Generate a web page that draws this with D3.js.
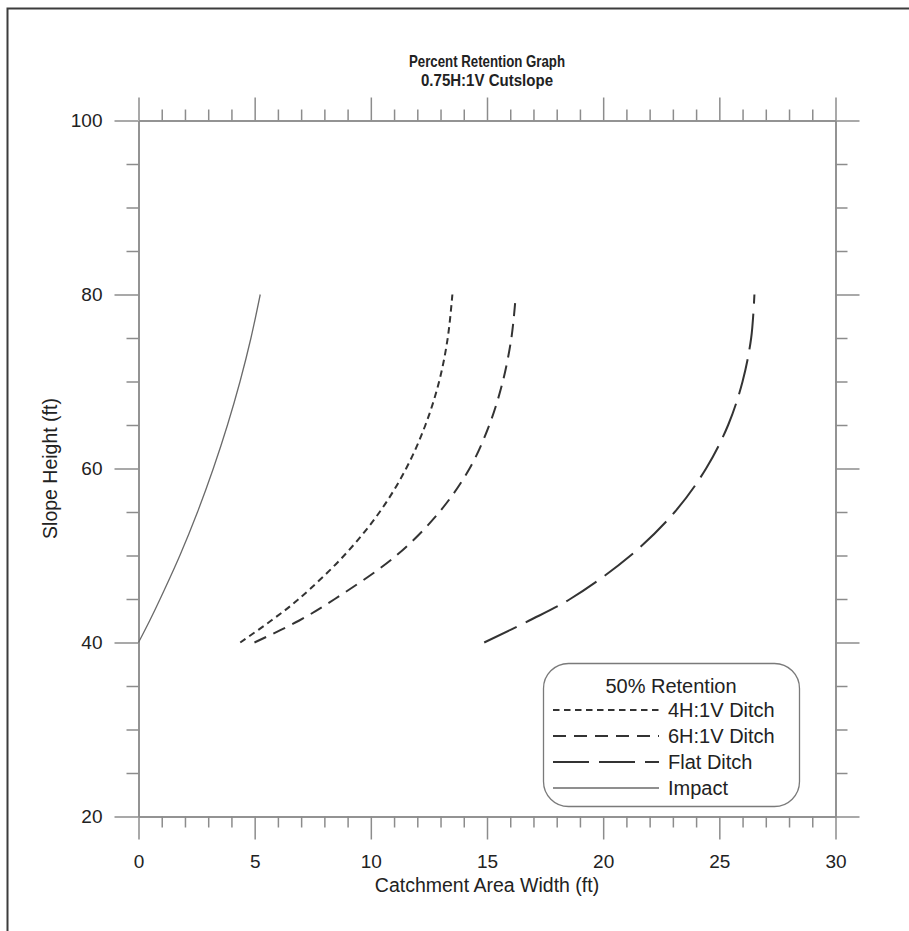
<!DOCTYPE html>
<html><head><meta charset="utf-8">
<script src="https://cdn.jsdelivr.net/npm/d3@7"></script>
<style>
html,body{margin:0;padding:0;background:#fff;overflow:hidden;}
svg{display:block;font-family:"Liberation Sans",Arial,sans-serif;}
</style></head>
<body>
<svg id="chart" width="909" height="931"></svg>
<script>
// ---- data ----
const titleLines = ["Percent Retention Graph", "0.75H:1V Cutslope"];
const xLabel = "Catchment Area Width (ft)";
const yLabel = "Slope Height (ft)";
const legendTitle = "50% Retention";
const seriesNames = ["4H:1V Ditch", "6H:1V Ditch", "Flat Ditch", "Impact"];
const xMajorTicks = [0, 5, 10, 15, 20, 25, 30];
const yMajorTicks = [20, 40, 60, 80, 100];
const heights = [40, 42.5, 45, 50, 55, 60, 65, 70, 75, 80];
const heights6H = [40, 42.5, 45, 50, 55, 60, 65, 70, 75, 79];
const width4H = [4.38, 5.7, 6.9, 8.85, 10.38, 11.52, 12.35, 12.94, 13.31, 13.51];
const width6H = [4.99, 6.9, 8.45, 11.1, 12.95, 14.25, 15.1, 15.68, 16.05, 16.21];
const widthFlat = [14.88, 16.8, 18.58, 21.18, 23.08, 24.43, 25.38, 26.0, 26.37, 26.51];
const widthImpact = [0, 0.48, 0.93, 1.78, 2.54, 3.22, 3.83, 4.37, 4.84, 5.24];

// ---- build ----
const svg = d3.select("#chart");
const axisColor = "#8c8c8c";
const textColor = "#222";
const x = d3.scaleLinear().domain([0, 30]).range([138.5, 835.5]);
const y = d3.scaleLinear().domain([20, 100]).range([816.5, 120.5]);

// outer frame (only top and left edges fall inside the view)
svg.append("path").attr("d", "M7.5,1000 V8.5 H1000")
  .attr("fill", "none").attr("stroke", "#3c3c3c").attr("stroke-width", 2);

const xMinor = d3.range(0, 31, 1).filter(v => v % 5 !== 0);
const yMinor = d3.range(20, 101, 5).filter(v => v % 20 !== 0);

function styleAxis(g) {
  g.selectAll("path.domain").attr("stroke", axisColor).attr("stroke-width", 1.5);
  g.selectAll(".tick line").attr("stroke", axisColor).attr("stroke-width", 1.5);
  g.selectAll(".tick text").attr("fill", textColor).attr("font-size", 19)
    .attr("font-family", "Liberation Sans, Arial, sans-serif");
}

// bottom
const gB = svg.append("g").attr("transform", `translate(0,${y(20)})`)
  .call(d3.axisBottom(x).tickValues(xMajorTicks).tickSize(23).tickSizeOuter(0).tickPadding(15).tickFormat(d3.format("d")));
styleAxis(gB);
const gBm = svg.append("g").attr("transform", `translate(0,${y(20)})`)
  .call(d3.axisBottom(x).tickValues(xMinor).tickSize(11).tickSizeOuter(0).tickFormat(""));
styleAxis(gBm);
// top
const gT = svg.append("g").attr("transform", `translate(0,${y(100)})`)
  .call(d3.axisTop(x).tickValues(xMajorTicks).tickSize(23).tickSizeOuter(0).tickFormat(""));
styleAxis(gT);
const gTm = svg.append("g").attr("transform", `translate(0,${y(100)})`)
  .call(d3.axisTop(x).tickValues(xMinor).tickSize(11).tickSizeOuter(0).tickFormat(""));
styleAxis(gTm);
// left
const gL = svg.append("g").attr("transform", `translate(${x(0)},0)`)
  .call(d3.axisLeft(y).tickValues(yMajorTicks).tickSize(24).tickSizeOuter(0).tickPadding(12).tickFormat(d3.format("d")));
styleAxis(gL);
const gLm = svg.append("g").attr("transform", `translate(${x(0)},0)`)
  .call(d3.axisLeft(y).tickValues(yMinor).tickSize(12).tickSizeOuter(0).tickFormat(""));
styleAxis(gLm);
// right
const gR = svg.append("g").attr("transform", `translate(${x(30)},0)`)
  .call(d3.axisRight(y).tickValues(yMajorTicks).tickSize(24).tickSizeOuter(0).tickFormat(""));
styleAxis(gR);
const gRm = svg.append("g").attr("transform", `translate(${x(30)},0)`)
  .call(d3.axisRight(y).tickValues(yMinor).tickSize(12).tickSizeOuter(0).tickFormat(""));
styleAxis(gRm);

// titles
const cx = (x(0) + x(30)) / 2;
svg.append("text").attr("x", cx).attr("y", 67).attr("text-anchor", "middle")
  .attr("font-size", 16.5).attr("font-weight", "bold").attr("fill", textColor)
  .attr("textLength", 156).attr("lengthAdjust", "spacingAndGlyphs").text(titleLines[0]);
svg.append("text").attr("x", cx).attr("y", 86).attr("text-anchor", "middle")
  .attr("font-size", 16.5).attr("font-weight", "bold").attr("fill", textColor)
  .attr("textLength", 132).attr("lengthAdjust", "spacingAndGlyphs").text(titleLines[1]);
svg.append("text").attr("x", cx).attr("y", 892).attr("text-anchor", "middle")
  .attr("font-size", 19.5).attr("fill", textColor).text(xLabel);
svg.append("text").attr("transform", `translate(57,${(y(20) + y(100)) / 2}) rotate(-90)`)
  .attr("text-anchor", "middle").attr("font-size", 19.5).attr("fill", textColor).text(yLabel);

// series
const series = [
  { name: seriesNames[0], xs: width4H, ys: heights, dash: "6.5,4.5", color: "#333", w: 2 },
  { name: seriesNames[1], xs: width6H, ys: heights6H, dash: "13,8", color: "#333", w: 2 },
  { name: seriesNames[2], xs: widthFlat, ys: heights, dash: "36,10", color: "#333", w: 2 },
  { name: seriesNames[3], xs: widthImpact, ys: heights, dash: null, color: "#6a6a6a", w: 1.3 }
];
const line = d3.line().x(d => x(d[0])).y(d => y(d[1])).curve(d3.curveCatmullRom.alpha(0.5));
series.forEach(s => {
  const pts = s.xs.map((v, i) => [v, s.ys[i]]);
  svg.append("path").datum(pts).attr("d", line).attr("fill", "none")
    .attr("stroke", s.color).attr("stroke-width", s.w)
    .attr("stroke-dasharray", s.dash);
});

// legend
const lg = svg.append("g");
lg.append("rect").attr("x", 543.5).attr("y", 663.5).attr("width", 256).attr("height", 143)
  .attr("rx", 25).attr("ry", 25).attr("fill", "#fff").attr("stroke", "#7a7a7a").attr("stroke-width", 1.3);
lg.append("text").attr("x", 671).attr("y", 693).attr("text-anchor", "middle")
  .attr("font-size", 20).attr("fill", textColor).text(legendTitle);
series.forEach((s, i) => {
  const yy = 710 + i * 26;
  lg.append("line").attr("x1", 553).attr("x2", 659).attr("y1", yy).attr("y2", yy)
    .attr("stroke", s.color).attr("stroke-width", s.w).attr("stroke-dasharray", s.dash);
  lg.append("text").attr("x", 668).attr("y", yy + 7).attr("font-size", 20)
    .attr("fill", textColor).text(s.name);
});
</script>
</body></html>
